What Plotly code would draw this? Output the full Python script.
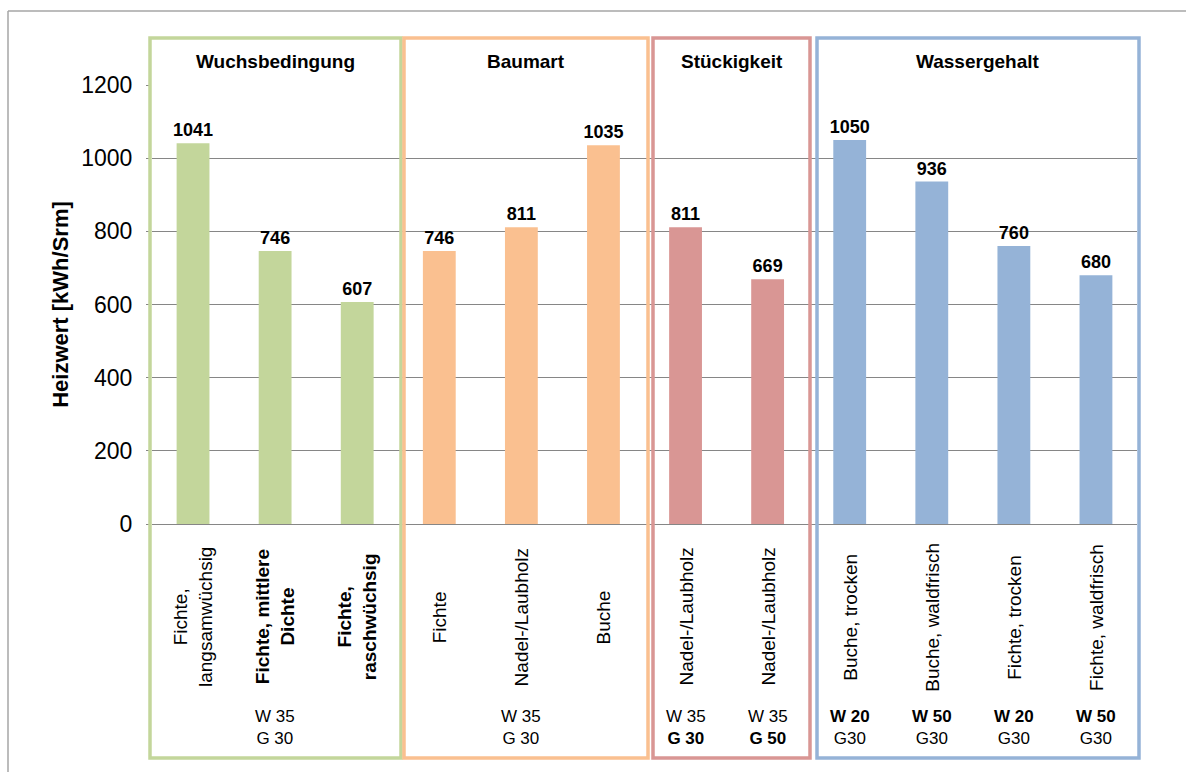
import plotly.graph_objects as go

# ---- data ----
categories = ["Fichte,<br>langsamwüchsig", "<b>Fichte, mittlere<br>Dichte</b>", "<b>Fichte,<br>raschwüchsig</b>",
              "Fichte", "Nadel-/Laubholz", "Buche",
              "Nadel-/Laubholz", "Nadel-/Laubholz",
              "Buche, trocken", "Buche, waldfrisch", "Fichte, trocken", "Fichte, waldfrisch"]
values = [1041, 746, 607, 746, 811, 1035, 811, 669, 1050, 936, 760, 680]
groups = ["Wuchsbedingung", "Baumart", "Stückigkeit", "Wassergehalt"]
group_sizes = [3, 3, 2, 4]
group_colors = ["#c3d69b", "#fac090", "#d99694", "#95b3d7"]
# condition labels: (category index, text)
cond_labels = [(1, "W 35<br>G 30"), (4, "W 35<br>G 30"),
               (6, "W 35<br><b>G 30</b>"), (7, "W 35<br><b>G 50</b>"),
               (8, "<b>W 20</b><br>G30"), (9, "<b>W 50</b><br>G30"),
               (10, "<b>W 20</b><br>G30"), (11, "<b>W 50</b><br>G30")]
y_ticks = [0, 200, 400, 600, 800, 1000, 1200]

# ---- layout geometry (pixels) ----
W, H = 1186, 772
ML, MR, MT, MB = 152, 49, 85, 248
PW, PH = W - ML - MR, H - MT - MB
FONT = "Liberation Sans, Arial, sans-serif"

def px(X):
    return (X - ML) / PW

def py(Y):
    return (H - MB - Y) / PH

bar_colors = []
for c, n in zip(group_colors, group_sizes):
    bar_colors += [c] * n

xs = list(range(len(values)))

fig = go.Figure()
fig.add_trace(go.Bar(
    x=xs, y=values, marker=dict(color=bar_colors, line=dict(width=0)),
    text=[str(v) for v in values], texttemplate="<b>%{text}</b>",
    textposition="outside", cliponaxis=False, constraintext="none",
    textfont=dict(family=FONT, size=18, color="black"),
    showlegend=False, hoverinfo="skip"))

shapes = []
annotations = []

# group boxes (pixel bounds)
box_x = [(150, 401), (404, 648), (653, 810), (817, 1139)]
box_top, box_bot = 38, 758
for (x0, x1), col, g in zip(box_x, group_colors, groups):
    shapes.append(dict(type="rect", xref="paper", yref="paper",
                       x0=px(x0), x1=px(x1), y0=py(box_bot), y1=py(box_top),
                       line=dict(color=col, width=3.5), layer="above"))
    annotations.append(dict(xref="paper", yref="paper", x=px((x0 + x1) / 2), y=py(62),
                            text="<b>" + g + "</b>", showarrow=False,
                            font=dict(family=FONT, size=19, color="black"),
                            xanchor="center", yanchor="middle"))

# outer chart border (top and left edges visible)
shapes.append(dict(type="line", xref="paper", yref="paper", x0=px(8), x1=px(1300),
                   y0=py(11), y1=py(11), line=dict(color="#a6a6a6", width=1.5)))
shapes.append(dict(type="line", xref="paper", yref="paper", x0=px(8), x1=px(8),
                   y0=py(11), y1=py(900), line=dict(color="#a6a6a6", width=1.5)))

# rotated category labels
for i, lab in enumerate(categories):
    annotations.append(dict(xref="x", yref="paper", x=xs[i], y=py(617), text=lab,
                            textangle=-90, showarrow=False, align="center",
                            font=dict(family=FONT, size=19, color="black"),
                            xanchor="center", yanchor="middle"))

# condition labels
for i, lab in cond_labels:
    annotations.append(dict(xref="x", yref="paper", x=xs[i], y=py(727), text=lab,
                            showarrow=False, align="center",
                            font=dict(family=FONT, size=17, color="black"),
                            xanchor="center", yanchor="middle"))

fig.update_layout(
    width=W, height=H, margin=dict(l=ML, r=MR, t=MT, b=MB, autoexpand=False),
    paper_bgcolor="white", plot_bgcolor="white",
    bargap=0.6, shapes=shapes, annotations=annotations,
    xaxis=dict(range=[-0.5, len(values) - 0.5], showticklabels=False, showgrid=False,
               zeroline=False, showline=False, ticks=""),
    yaxis=dict(range=[0, 1200], tickvals=y_ticks, showgrid=True, gridcolor="#868686",
               gridwidth=1, zeroline=True, zerolinecolor="#868686", zerolinewidth=1,
               ticks="outside", ticklen=5, tickcolor="#868686", ticklabelstandoff=9,
               tickfont=dict(family=FONT, size=23, color="black"),
               title=dict(text="<b>Heizwert [kWh/Srm]</b>", standoff=6,
                          font=dict(family=FONT, size=22, color="black"))),
    font=dict(family=FONT),
)

fig.write_html("out.html")
